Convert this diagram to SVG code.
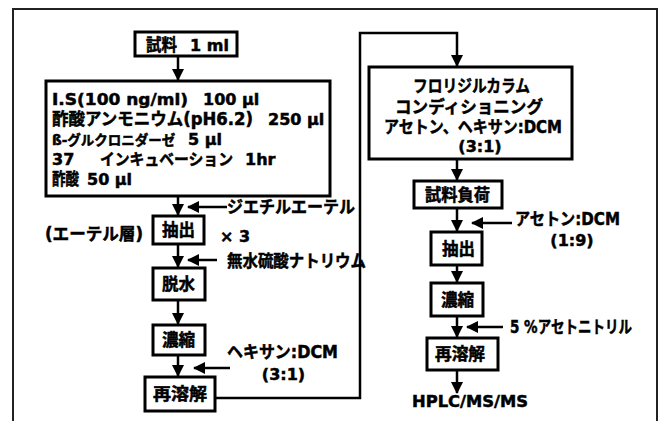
<svg xmlns="http://www.w3.org/2000/svg" width="664" height="421" viewBox="0 0 664 421">
<style>
text{font-family:"DejaVu Sans","Noto Sans CJK JP",sans-serif;font-weight:bold;font-size:16px;fill:#000;stroke:#000;stroke-width:0.5}
.j{font-size:17px}
.c{text-anchor:middle}
.box{fill:#fff;stroke:#000;stroke-width:3}
.ln{fill:none;stroke:#000;stroke-width:2.5}
</style>
<defs>
<marker id="ah" markerUnits="userSpaceOnUse" markerWidth="12" markerHeight="12" refX="11" refY="6" orient="auto">
<path d="M0,0 L12,6 L0,12 z" fill="#000"/>
</marker>
</defs>
<rect x="0" y="0" width="664" height="421" fill="#fff"/>
<path d="M13,421 V9 H657 V421" fill="none" stroke="#222" stroke-width="2"/>

<g id="connectors">
<line class="ln" x1="178" y1="57" x2="178" y2="80" marker-end="url(#ah)"/>
<line class="ln" x1="178" y1="197" x2="178" y2="215" marker-end="url(#ah)"/>
<line class="ln" x1="178" y1="245" x2="178" y2="267" marker-end="url(#ah)"/>
<line class="ln" x1="178" y1="301" x2="178" y2="324" marker-end="url(#ah)"/>
<line class="ln" x1="178" y1="356" x2="178" y2="376" marker-end="url(#ah)"/>
<line class="ln" x1="227" y1="207" x2="188" y2="207" marker-end="url(#ah)"/>
<line class="ln" x1="217" y1="260" x2="188" y2="260" marker-end="url(#ah)"/>
<line class="ln" x1="230" y1="368" x2="194" y2="368" marker-end="url(#ah)"/>
<polyline class="ln" points="216,398 360,398 360,33 457,33 457,66" marker-end="url(#ah)"/>
<line class="ln" x1="457" y1="160" x2="457" y2="180" marker-end="url(#ah)"/>
<line class="ln" x1="457" y1="209" x2="457" y2="231" marker-end="url(#ah)"/>
<line class="ln" x1="457" y1="266" x2="457" y2="282" marker-end="url(#ah)"/>
<line class="ln" x1="457" y1="317" x2="457" y2="337" marker-end="url(#ah)"/>
<line class="ln" x1="457" y1="371" x2="457" y2="393" marker-end="url(#ah)"/>
<line class="ln" x1="512" y1="223" x2="472" y2="223" marker-end="url(#ah)"/>
<line class="ln" x1="503" y1="327" x2="467" y2="327" marker-end="url(#ah)"/>
</g>

<g id="sample">
<rect class="box" x="135" y="32" width="102" height="24"/>
<text class="j" x="146" y="51" textLength="31" lengthAdjust="spacingAndGlyphs">試料</text>
<text x="190" y="51">1 ml</text>
</g>

<g id="reagents">
<rect class="box" x="46" y="81" width="284" height="115"/>
<text x="52" y="105" textLength="136" lengthAdjust="spacingAndGlyphs">I.S(100 ng/ml)</text>
<text x="203" y="105">100 µl</text>
<text class="j" x="52" y="125" textLength="201" lengthAdjust="spacingAndGlyphs">酢酸アンモニウム(pH6.2)</text>
<text x="268" y="125">250 µl</text>
<text x="52" y="145"><tspan font-size="13.5">ß-グルクロニダーゼ</tspan><tspan x="188">5 µl</tspan></text>
<text x="52" y="165">37</text>
<text x="100" y="165" font-size="15" textLength="133" lengthAdjust="spacingAndGlyphs">インキュベーション</text>
<text x="245" y="165">1hr</text>
<text class="j" x="52" y="185" textLength="27" lengthAdjust="spacingAndGlyphs">酢酸</text>
<text x="87" y="185">50 µl</text>
</g>

<g id="ether-label">
<text class="j" x="227" y="213" textLength="128" lengthAdjust="spacingAndGlyphs">ジエチルエーテル</text>
</g>

<g id="extract1">
<rect class="box" x="153" y="216" width="51" height="28"/>
<text class="j" x="162" y="236" textLength="33" lengthAdjust="spacingAndGlyphs">抽出</text>
<text class="j" x="45" y="240" textLength="98" lengthAdjust="spacingAndGlyphs">(エーテル層)</text>
<text x="220" y="242" textLength="30" lengthAdjust="spacingAndGlyphs">× 3</text>
</g>

<g id="na2so4-label">
<text class="j" x="227" y="267" textLength="139" lengthAdjust="spacingAndGlyphs">無水硫酸ナトリウム</text>
</g>

<g id="dehydrate">
<rect class="box" x="153" y="268" width="52" height="32"/>
<text class="j" x="162" y="290" textLength="33" lengthAdjust="spacingAndGlyphs">脱水</text>
</g>

<g id="concentrate1">
<rect class="box" x="153" y="325" width="52" height="30"/>
<text class="j" x="162" y="346" textLength="33" lengthAdjust="spacingAndGlyphs">濃縮</text>
</g>

<g id="hexane-label">
<text class="j" x="227" y="358" textLength="111" lengthAdjust="spacingAndGlyphs">ヘキサン:DCM</text>
<text class="c" x="283.5" y="380">(3:1)</text>
</g>

<g id="redissolve1">
<rect class="box" x="145" y="377" width="70" height="34"/>
<text class="j" x="153" y="400" textLength="54" lengthAdjust="spacingAndGlyphs">再溶解</text>
</g>

<g id="florisil">
<rect class="box" x="369" y="67" width="203" height="92"/>
<text class="j" x="413" y="92" textLength="117" lengthAdjust="spacingAndGlyphs">フロリジルカラム</text>
<text class="j" x="395" y="113" textLength="148" lengthAdjust="spacingAndGlyphs">コンディショニング</text>
<text class="j" x="384" y="133" textLength="178" lengthAdjust="spacingAndGlyphs">アセトン、ヘキサン:DCM</text>
<text class="c" x="480" y="152">(3:1)</text>
</g>

<g id="loading">
<rect class="box" x="414" y="181" width="88" height="27"/>
<text class="j" x="425" y="201" textLength="65" lengthAdjust="spacingAndGlyphs">試料負荷</text>
</g>

<g id="acetone-label">
<text class="j" x="515" y="225" textLength="105" lengthAdjust="spacingAndGlyphs">アセトン:DCM</text>
<text class="c" x="572" y="246">(1:9)</text>
</g>

<g id="extract2">
<rect class="box" x="431" y="232" width="51" height="33"/>
<text class="j" x="442" y="255" textLength="33" lengthAdjust="spacingAndGlyphs">抽出</text>
</g>

<g id="concentrate2">
<rect class="box" x="431" y="283" width="52" height="33"/>
<text class="j" x="441" y="306" textLength="33" lengthAdjust="spacingAndGlyphs">濃縮</text>
</g>

<g id="acetonitrile-label">
<text class="j" x="510" y="333" textLength="122" lengthAdjust="spacingAndGlyphs">5 %アセトニトリル</text>
</g>

<g id="redissolve2">
<rect class="box" x="427" y="338" width="71" height="32"/>
<text class="j" x="435" y="360" textLength="50" lengthAdjust="spacingAndGlyphs">再溶解</text>
</g>

<g id="hplc">
<text x="412" y="407" textLength="116" lengthAdjust="spacingAndGlyphs">HPLC/MS/MS</text>
</g>
</svg>
